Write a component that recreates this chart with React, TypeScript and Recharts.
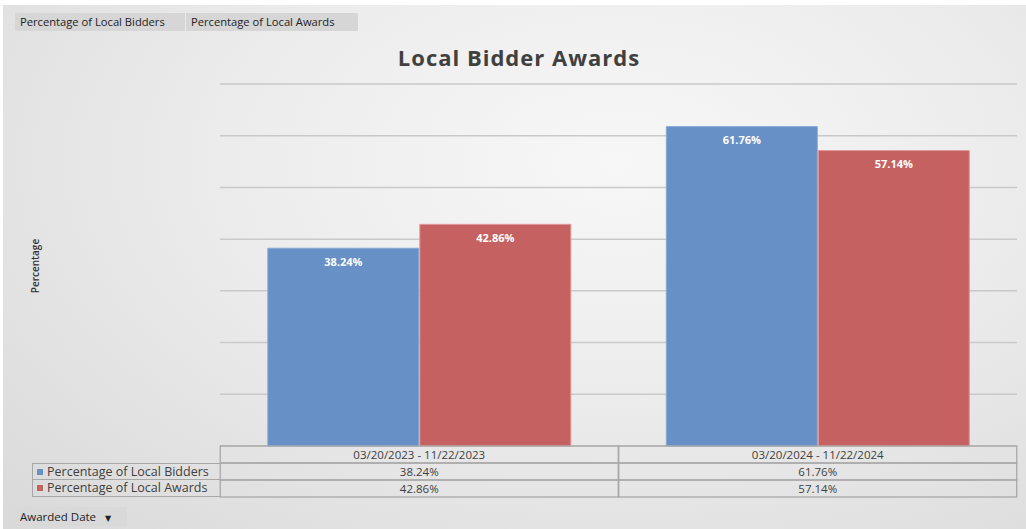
import React from 'react'
import { BarChart, Bar, XAxis, YAxis, CartesianGrid, LabelList } from 'recharts'

const periods = ['03/20/2023 - 11/22/2023', '03/20/2024 - 11/22/2024']
const localBidders = [38.24, 61.76]
const localAwards = [42.86, 57.14]
const seriesNames = ['Percentage of Local Bidders', 'Percentage of Local Awards']
const yTicks = [0, 10, 20, 30, 40, 50, 60, 70]

const COLORS = {
  bidders: '#6690c6', // blue
  awards: '#c66161', // red
}

const chartData = periods.map((period, i) => ({
  period,
  bidders: localBidders[i],
  awards: localAwards[i],
}))

const FONT = '"Open Sans", "DejaVu Sans", sans-serif'
const TEXT = '#404040'
const BORDER = '#a8a8a8'
const ROW = 17
const HALF_COL = 199

const fmt = (v: number) => `${v.toFixed(2)}%`

// draws one column of the data table under each category
function TableTick(props: any) {
  const { x, y, payload, index } = props
  const d = chartData[index]
  const left = x - HALF_COL
  return (
    <g>
      {[0, 1, 2].map((r) => (
        <rect
          key={r}
          x={left}
          y={y + r * ROW}
          width={HALF_COL * 2}
          height={ROW}
          fill="none"
          stroke={BORDER}
          strokeWidth={1.3}
        />
      ))}
      <text x={x} y={y + 12.5} textAnchor="middle" fontSize={11.5} fontFamily={FONT} fill={TEXT}>
        {payload.value}
      </text>
      <text x={x} y={y + ROW + 12.5} textAnchor="middle" fontSize={11.5} fontFamily={FONT} fill={TEXT}>
        {fmt(d.bidders)}
      </text>
      <text x={x} y={y + ROW * 2 + 12.5} textAnchor="middle" fontSize={11.5} fontFamily={FONT} fill={TEXT}>
        {fmt(d.awards)}
      </text>
    </g>
  )
}

const buttonStyle: React.CSSProperties = {
  position: 'absolute',
  top: 13,
  height: 18,
  lineHeight: '18px',
  background: '#d6d6d6',
  fontSize: 11.2,
  fontFamily: FONT,
  color: '#222',
  paddingLeft: 5,
  boxSizing: 'border-box',
  whiteSpace: 'nowrap',
}

export default function App() {
  return (
    <div
      style={{
        position: 'fixed',
        left: 0,
        top: 0,
        width: 1026,
        height: 529,
        background: '#fff',
        overflow: 'hidden',
      }}
    >
      <div
        style={{
          position: 'absolute',
          left: 3,
          top: 5,
          width: 1023,
          height: 524,
          background: 'radial-gradient(ellipse at 60% 30%, #f7f7f7 0%, #ececec 45%, #d9d9d9 100%)',
        }}
      />
      {/* field buttons */}
      <div style={{ ...buttonStyle, left: 15, width: 170 }}>{seriesNames[0]}</div>
      <div style={{ ...buttonStyle, left: 186, width: 172 }}>{seriesNames[1]}</div>

      {/* title */}
      <div
        style={{
          position: 'absolute',
          left: 220,
          width: 598,
          top: 42,
          textAlign: 'center',
          fontFamily: FONT,
          fontWeight: 700,
          fontSize: 22,
          letterSpacing: 1,
          color: '#404040',
        }}
      >
        Local Bidder Awards
      </div>

      {/* y axis title */}
      <div
        style={{
          position: 'absolute',
          left: 35,
          top: 266,
          transform: 'translate(-50%, -50%) rotate(-90deg)',
          fontFamily: FONT,
          fontWeight: 600,
          fontSize: 10,
          color: '#333',
          whiteSpace: 'nowrap',
        }}
      >
        Percentage
      </div>

      <div style={{ position: 'absolute', left: 0, top: 0 }}>
        <BarChart
          width={1026}
          height={529}
          data={chartData}
          margin={{ top: 84, right: 9, left: 220, bottom: 28 }}
          barCategoryGap="12%"
          barGap={1}
        >
          <CartesianGrid vertical={false} stroke="#c9c9c9" strokeWidth={1.5} />
          <YAxis hide domain={[0, 70]} ticks={yTicks} width={0} />
          <XAxis
            dataKey="period"
            axisLine={false}
            tickLine={false}
            tickSize={0}
            tickMargin={0}
            height={55}
            interval={0}
            tick={<TableTick />}
          />
          <Bar dataKey="bidders" fill={COLORS.bidders} stroke="#88a9d6" strokeWidth={1} isAnimationActive={false}>
            <LabelList
              dataKey="bidders"
              position="insideTop"
              offset={10}
              formatter={(v: any) => fmt(Number(v))}
              fill="#fff"
              fontSize={11}
              fontWeight={700}
              fontFamily={FONT}
            />
          </Bar>
          <Bar dataKey="awards" fill={COLORS.awards} stroke="#e09a9a" strokeWidth={1} isAnimationActive={false}>
            <LabelList
              dataKey="awards"
              position="insideTop"
              offset={10}
              formatter={(v: any) => fmt(Number(v))}
              fill="#fff"
              fontSize={11}
              fontWeight={700}
              fontFamily={FONT}
            />
          </Bar>
        </BarChart>
      </div>

      {/* legend column of the data table */}
      {seriesNames.map((name, i) => (
        <div
          key={name}
          style={{
            position: 'absolute',
            left: 32,
            top: 463 + i * ROW,
            width: 188,
            height: ROW,
            boxSizing: 'border-box',
            border: `1.3px solid ${BORDER}`,
            borderTop: i === 0 ? `1.3px solid ${BORDER}` : 'none',
            borderRight: 'none',
            fontFamily: FONT,
            fontSize: 12.5,
            color: TEXT,
            lineHeight: '15px',
            paddingLeft: 4,
            whiteSpace: 'nowrap',
          }}
        >
          <span
            style={{
              display: 'inline-block',
              width: 6,
              height: 6,
              marginRight: 4,
              background: i === 0 ? COLORS.bidders : COLORS.awards,
              verticalAlign: 'middle',
              marginTop: -2,
            }}
          />
          {name}
        </div>
      ))}

      {/* axis field button */}
      <div
        style={{
          position: 'absolute',
          left: 15,
          top: 507,
          width: 112,
          height: 19,
          background: '#d9d9d9',
          fontFamily: FONT,
          fontSize: 11.5,
          lineHeight: '19px',
          color: '#222',
          paddingLeft: 5,
          boxSizing: 'border-box',
          whiteSpace: 'nowrap',
        }}
      >
        Awarded Date <span style={{ fontSize: 8, marginLeft: 6 }}>▼</span>
      </div>
    </div>
  )
}
